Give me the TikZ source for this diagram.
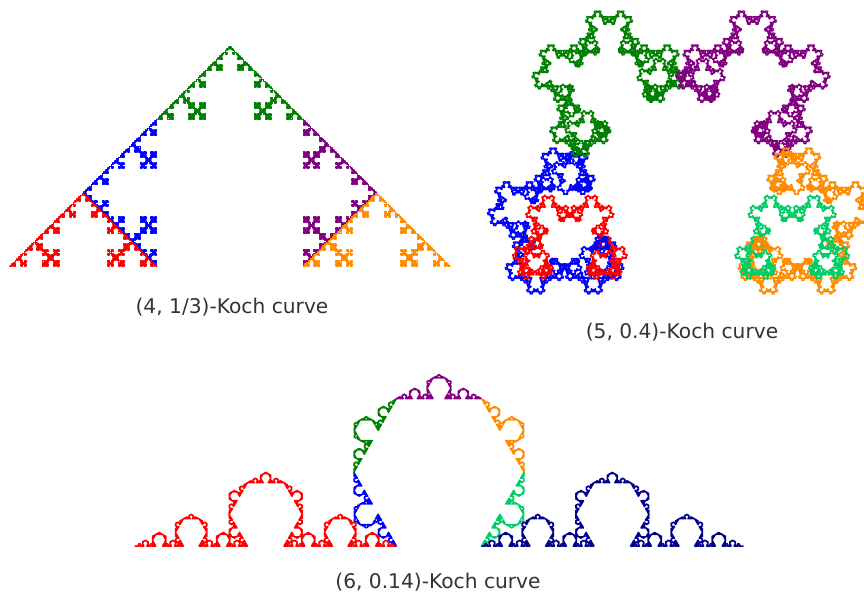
\documentclass[tikz,border=0pt]{standalone}
\usepackage{fontspec}
\setmainfont{DejaVu Sans}
\definecolor{kred}{RGB}{255,0,0}
\definecolor{kblue}{RGB}{0,0,255}
\definecolor{kgreen}{RGB}{0,128,0}
\definecolor{kpurple}{RGB}{128,0,128}
\definecolor{korange}{RGB}{255,140,0}
\definecolor{kmint}{RGB}{0,205,102}
\definecolor{knavy}{RGB}{0,0,139}
\definecolor{ktext}{RGB}{51,51,51}
\tikzset{capt/.style={text=ktext,inner sep=0pt,font=\fontsize{20.2}{24}\selectfont}}
\makeatletter
\newcount\kx \newcount\ky \newcount\kDx \newcount\kDy \newcount\kdepth \newcount\kmin
\def\kline#1#2{%
    \global\advance\kx by #1\relax
    \global\advance\ky by #2\relax
    \pgfsys@lineto{\kx sp}{\ky sp}}
\def\kseg#1#2#3{%
  \ifnum#1=0
    \kline{#2}{#3}%
  \else
    \ifnum\numexpr\ifnum#2<0 -\fi#2+\ifnum#3<0 -\fi#3\relax<\kmin
      \kline{#2}{#3}%
    \else
      \kgen{#1}{#2}{#3}%
    \fi
  \fi}
\def\kchild#1#2#3#4#5{%
  \edef\ktmp{{\the\numexpr#3-1\relax}%
    {\the\numexpr#4*#1/1000000-#5*#2/1000000\relax}%
    {\the\numexpr#4*#2/1000000+#5*#1/1000000\relax}}%
  \expandafter\kseg\ktmp}
\def\kgenA#1#2#3{%
  \kchild{333333}{0}{#1}{#2}{#3}%
  \kchild{0}{333333}{#1}{#2}{#3}%
  \kchild{333333}{0}{#1}{#2}{#3}%
  \kchild{0}{-333333}{#1}{#2}{#3}%
  \kchild{333333}{0}{#1}{#2}{#3}}
\def\kgenB#1#2#3{%
  \kchild{300000}{0}{#1}{#2}{#3}%
  \kchild{-123607}{380423}{#1}{#2}{#3}%
  \kchild{323607}{235114}{#1}{#2}{#3}%
  \kchild{323607}{-235114}{#1}{#2}{#3}%
  \kchild{-123607}{-380423}{#1}{#2}{#3}%
  \kchild{300000}{0}{#1}{#2}{#3}}
\def\kgenC#1#2#3{%
  \kchild{430000}{0}{#1}{#2}{#3}%
  \kchild{-70000}{121244}{#1}{#2}{#3}%
  \kchild{70000}{121244}{#1}{#2}{#3}%
  \kchild{140000}{0}{#1}{#2}{#3}%
  \kchild{70000}{-121244}{#1}{#2}{#3}%
  \kchild{-70000}{-121244}{#1}{#2}{#3}%
  \kchild{430000}{0}{#1}{#2}{#3}}
% curve set-up: generator, depth, chord length, stroke width, stop length (pt)
\def\ksetup#1#2#3#4#5{\let\kgen#1\kdepth=#2\relax
  \kDx=\dimexpr#3pt\relax \kDy=0\relax
  \def\kwidth{#4pt}\kmin=\dimexpr#5pt\relax}
% one coloured piece: colour, start x, start y, matrix a, b
\def\kpiece#1#2#3#4#5{%
  \begin{pgfscope}%
  \pgfsetstrokecolor{#1}%
  \pgfsetlinewidth{\kwidth}\pgfsetroundjoin\pgfsetroundcap
  \kx=\dimexpr#2pt\relax \ky=\dimexpr#3pt\relax
  \pgfsys@moveto{\kx sp}{\ky sp}%
  \edef\kd{\the\kdepth}\edef\kdx{\the\kDx}\edef\kdy{\the\kDy}%
  \kchild{#4}{#5}{\kd}{\kdx}{\kdy}%
  \pgfsys@stroke
  \end{pgfscope}}
\makeatother
\begin{document}
\begin{tikzpicture}[x=1pt,y=1pt]
\fill[white,use as bounding box] (0,0) rectangle (864,592);
% (4,1/3)
\ksetup{\kgenA}{5}{440}{1.6}{0.5}
\kpiece{kblue}{156.67}{326}{0}{333333}
\kpiece{kred}{10}{326}{333333}{0}
\kpiece{kgreen}{156.67}{472.67}{333333}{0}
\kpiece{kpurple}{303.33}{472.67}{0}{-333333}
\kpiece{korange}{303.33}{326}{333333}{0}
% (5,0.4)
\ksetup{\kgenB}{7}{317.6}{1.2}{1.5}
\kpiece{kblue}{617.48}{318.4}{-123607}{380423}
\kpiece{kred}{522.2}{318.4}{300000}{0}
\begin{scope}
\clip (590,336) rectangle (617,357);
\kpiece{kblue}{617.48}{318.4}{-37082}{114127}
\end{scope}
\kpiece{kgreen}{578.22}{439.22}{323607}{235114}
\kpiece{kpurple}{681}{513.89}{323607}{-235114}
\kpiece{korange}{783.78}{439.22}{-123607}{-380423}
\kpiece{kmint}{744.52}{318.4}{300000}{0}
\begin{scope}
\clip (745,336) rectangle (772,357);
\kpiece{korange}{756.3}{354.65}{-37082}{-114127}
\end{scope}
% (6,0.14)
\ksetup{\kgenC}{6}{608}{1.5}{1.2}
\kpiece{kblue}{396.44}{46}{-70000}{121244}
\kpiece{kred}{135}{46}{430000}{0}
\kpiece{kgreen}{353.88}{119.72}{70000}{121244}
\kpiece{kpurple}{396.44}{193.43}{140000}{0}
\kpiece{korange}{481.56}{193.43}{70000}{-121244}
\kpiece{kmint}{524.12}{119.72}{-70000}{-121244}
\kpiece{knavy}{481.56}{46}{430000}{0}
\node[capt] (capA) at (232,285) {(4, 1/3)-Koch curve};
\node[capt] (capB) at (682,260) {(5, 0.4)-Koch curve};
\node[capt] (capC) at (438,10) {(6, 0.14)-Koch curve};
\end{tikzpicture}
\end{document}
